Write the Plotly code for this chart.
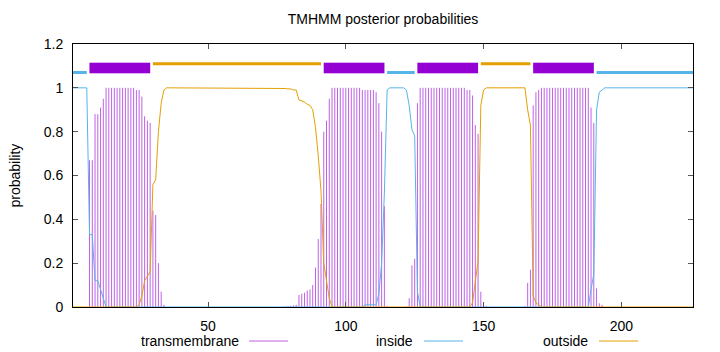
import plotly.graph_objects as go

# ---------------- data ----------------
residues = list(range(1, 227))

transmembrane = [
    0, 0, 0, 0, 0, 0, 0.67, 0.67, 0.88, 0.88,
    0.91, 0.95, 1, 1, 1, 1, 1, 1, 1, 1,
    1, 1, 1, 0.99, 0.99, 0.96, 0.87, 0.85, 0.84, 0.44,
    0.42, 0.2, 0.07, 0.01, 0, 0, 0, 0, 0, 0,
    0, 0, 0, 0, 0, 0, 0, 0, 0, 0,
    0, 0, 0, 0, 0, 0, 0, 0, 0, 0,
    0, 0, 0, 0, 0, 0, 0, 0, 0, 0,
    0, 0, 0, 0, 0, 0, 0.002, 0.003, 0.005, 0.005,
    0.008, 0.01, 0.055, 0.06, 0.065, 0.075, 0.08, 0.1, 0.18, 0.31,
    0.47, 0.8, 0.85, 0.95, 1, 1, 1, 1, 1, 1,
    1, 1, 1, 1, 1, 0.99, 0.99, 0.99, 0.99, 0.99,
    0.98, 0.93, 0.8, 0.46, 0.005, 0, 0, 0, 0, 0,
    0, 0.003, 0.04, 0.19, 0.22, 0.93, 1, 1, 1, 1,
    1, 1, 1, 1, 1, 1, 1, 1, 1, 1,
    1, 1, 1, 0.99, 0.99, 0.965, 0.83, 0.79, 0.07, 0.01,
    0.005, 0, 0, 0, 0, 0, 0, 0, 0, 0,
    0, 0, 0, 0, 0.005, 0.11, 0.17, 0.92, 0.98, 0.99,
    1, 1, 1, 1, 1, 1, 1, 1, 1, 1,
    1, 1, 1, 1, 1, 1, 1, 1, 0.91, 0.84,
    0.085, 0.017, 0.01, 0, 0, 0, 0, 0, 0, 0,
    0, 0, 0, 0, 0, 0, 0, 0, 0, 0,
    0, 0, 0, 0, 0, 0, 0, 0, 0, 0,
    0, 0, 0, 0, 0, 0,
]

inside = [
    1, 1, 1, 1, 1, 1, 0.33, 0.33, 0.12, 0.12,
    0.08, 0.04, 0, 0, 0, 0, 0, 0, 0, 0,
    0, 0, 0, 0, 0, 0, 0, 0, 0, 0,
    0, 0, 0, 0, 0, 0, 0, 0, 0, 0,
    0, 0, 0, 0, 0, 0, 0, 0, 0, 0,
    0, 0, 0, 0, 0, 0, 0, 0, 0, 0,
    0, 0, 0, 0, 0, 0, 0, 0, 0, 0,
    0, 0, 0, 0, 0, 0, 0, 0, 0, 0,
    0, 0, 0, 0, 0, 0, 0, 0, 0, 0,
    0, 0, 0, 0, 0, 0, 0, 0, 0, 0,
    0, 0, 0, 0, 0, 0, 0.01, 0.01, 0.01, 0.01,
    0.01, 0.06, 0.2, 0.52, 0.99, 1, 1, 1, 1, 1,
    1, 0.99, 0.92, 0.81, 0.78, 0.07, 0, 0, 0, 0,
    0, 0, 0, 0, 0, 0, 0, 0, 0, 0,
    0, 0, 0, 0, 0, 0, 0, 0, 0, 0,
    0, 0, 0, 0, 0, 0, 0, 0, 0, 0,
    0, 0, 0, 0, 0, 0, 0, 0, 0, 0,
    0, 0, 0, 0, 0, 0, 0, 0, 0, 0,
    0, 0, 0, 0, 0, 0, 0, 0, 0.08, 0.15,
    0.9, 0.98, 0.99, 1, 1, 1, 1, 1, 1, 1,
    1, 1, 1, 1, 1, 1, 1, 1, 1, 1,
    1, 1, 1, 1, 1, 1, 1, 1, 1, 1,
    1, 1, 1, 1, 1, 1,
]

outside = [
    0, 0, 0, 0, 0, 0, 0, 0, 0, 0,
    0, 0, 0, 0, 0, 0, 0, 0, 0, 0,
    0, 0, 0, 0, 0.01, 0.05, 0.12, 0.14, 0.16, 0.56,
    0.58, 0.8, 0.93, 0.99, 1, 1, 1, 1, 1, 1,
    1, 1, 1, 1, 1, 1, 1, 1, 1, 1,
    1, 1, 1, 1, 1, 1, 1, 1, 1, 1,
    1, 1, 1, 1, 1, 1, 1, 1, 1, 1,
    1, 1, 1, 1, 1, 1, 0.998, 0.997, 0.995, 0.995,
    0.99, 0.99, 0.945, 0.94, 0.935, 0.925, 0.92, 0.9, 0.82, 0.69,
    0.53, 0.2, 0.11, 0.04, 0, 0, 0, 0, 0, 0,
    0, 0, 0, 0, 0, 0, 0, 0, 0, 0,
    0, 0, 0, 0, 0, 0, 0, 0, 0, 0,
    0, 0, 0, 0, 0, 0, 0, 0, 0, 0,
    0, 0, 0, 0, 0, 0, 0, 0, 0, 0,
    0, 0, 0, 0, 0, 0.02, 0.12, 0.21, 0.92, 0.99,
    1, 1, 1, 1, 1, 1, 1, 1, 1, 1,
    1, 1, 1, 1, 1, 0.9, 0.83, 0.05, 0.02, 0.01,
    0, 0, 0, 0, 0, 0, 0, 0, 0, 0,
    0, 0, 0, 0, 0, 0, 0, 0, 0, 0,
    0, 0, 0, 0, 0, 0, 0, 0, 0, 0,
    0, 0, 0, 0, 0, 0, 0, 0, 0, 0,
    0, 0, 0, 0, 0, 0, 0, 0, 0, 0,
    0, 0, 0, 0, 0, 0,
]

# predicted topology (segments shown as bars above the curves)
topo_class = ["inside", "TMhelix", "outside", "TMhelix", "inside",
              "TMhelix", "outside", "TMhelix", "inside"]
topo_start = [1, 7, 30, 92, 115, 126, 149, 168, 191]
topo_end = [6, 29, 91, 114, 125, 148, 167, 190, 226]

series_names = ["transmembrane", "inside", "outside"]
x_ticks = [50, 100, 150, 200]
y_ticks = [0, 0.2, 0.4, 0.6, 0.8, 1, 1.2]

# ---------------- style ----------------
C_TM = "#9400D3"
C_IN = "#56B4E9"
C_OUT = "#E69F00"
FONT = "Liberation Sans, Arial, sans-serif"
band_level = {"TMhelix": 1.09, "inside": 1.07, "outside": 1.11}
band_color = {"TMhelix": C_TM, "inside": C_IN, "outside": C_OUT}
band_width = {"TMhelix": 10, "inside": 3, "outside": 3}

fig = go.Figure()

# impulses for transmembrane probability
ix, iy = [], []
for r, v in zip(residues, transmembrane):
    ix += [r, r, None]
    iy += [0, v, None]
fig.add_trace(go.Scatter(x=ix, y=iy, mode="lines",
                         line=dict(color="rgba(148,0,211,0.62)", width=1),
                         showlegend=False, hoverinfo="skip"))

fig.add_trace(go.Scatter(x=residues, y=inside, mode="lines",
                         line=dict(color=C_IN, width=1), showlegend=False))
fig.add_trace(go.Scatter(x=residues, y=outside, mode="lines",
                         line=dict(color=C_OUT, width=1), showlegend=False))

# topology bars
for cls in ["inside", "outside", "TMhelix"]:
    bx, by = [], []
    for c, s, e in zip(topo_class, topo_start, topo_end):
        if c == cls:
            bx += [s, e, None]
            by += [band_level[cls], band_level[cls], None]
    if cls == "TMhelix":
        fig.add_trace(go.Scatter(x=bx, y=by, mode="lines",
                                 line=dict(color="rgba(148,0,211,0.3)", width=12),
                                 showlegend=False, hoverinfo="skip"))
    fig.add_trace(go.Scatter(x=bx, y=by, mode="lines",
                             line=dict(color=band_color[cls], width=band_width[cls]),
                             showlegend=False, hoverinfo="skip"))

# ---------------- layout ----------------
L, R, T, B = 73, 27, 44, 45
W, H = 720, 352
pw, ph = W - L - R, H - T - B

def px_x(p):
    return (p - L) / pw

def px_y(p):
    return (H - B - p) / ph

axis_common = dict(showline=True, linecolor="#000", linewidth=1, mirror="ticks",
                   ticks="inside", ticklen=5, tickcolor="#555", tickwidth=1,
                   showgrid=False, zeroline=False,
                   tickfont=dict(family=FONT, size=14, color="#000"))

fig.update_layout(
    width=W, height=H,
    margin=dict(l=L, r=R, t=T, b=B),
    paper_bgcolor="white", plot_bgcolor="white",
    showlegend=False,
    title=dict(text="TMHMM posterior probabilities", x=0.5, xref="paper",
               xanchor="center", y=1 - 19 / H, yref="container", yanchor="middle",
               font=dict(family=FONT, size=14, color="#000")),
    xaxis=dict(range=[1, 226], tickvals=x_ticks, ticklabelstandoff=6, **axis_common),
    yaxis=dict(range=[0, 1.2], tickvals=y_ticks, ticklabelstandoff=6, **axis_common),
)

fig.add_annotation(text="probability", textangle=-90, xref="paper", yref="paper",
                   x=px_x(14), y=0.5, xanchor="center", yanchor="middle",
                   showarrow=False, font=dict(family=FONT, size=14, color="#000"))

# gnuplot-style key: text followed by line sample
key_text_end = [241, 415, 590]
key_line = [(249, 288), (424, 463), (599, 638)]
key_colors = ["rgba(148,0,211,0.62)", C_IN, C_OUT]
key_y = 341
for name, te, (l0, l1), col in zip(series_names, key_text_end, key_line, key_colors):
    fig.add_annotation(text=name, xref="paper", yref="paper", x=px_x(te), y=px_y(key_y),
                       xanchor="right", yanchor="middle", showarrow=False,
                       font=dict(family=FONT, size=14, color="#000"))
    fig.add_shape(type="line", xref="paper", yref="paper",
                  x0=px_x(l0), x1=px_x(l1), y0=px_y(key_y), y1=px_y(key_y),
                  line=dict(color=col, width=1))

fig.write_html("out.html")
